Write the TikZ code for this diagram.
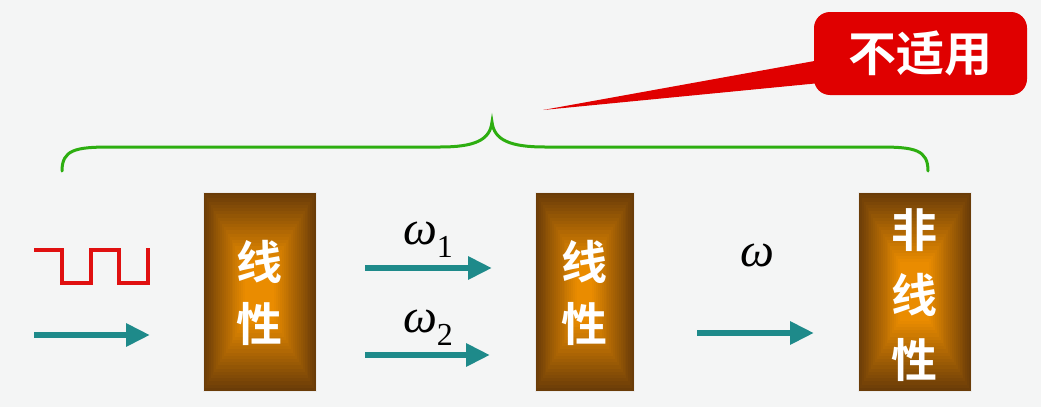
\documentclass[tikz,border=0pt]{standalone}
\usepackage{fontspec}
\setmainfont{Liberation Serif}
\newfontfamily\cjk{Noto Sans CJK SC}[BoldFont={* Bold}]
\usetikzlibrary{arrows.meta}
\definecolor{bgc}{HTML}{F4F5F5}
\definecolor{boxdark}{HTML}{6A3C08}
\definecolor{boxlight}{HTML}{EA8C00}
\definecolor{tealc}{HTML}{1E8A8A}
\definecolor{bracec}{HTML}{2DAE10}
\definecolor{calloutred}{HTML}{E00000}
\definecolor{wavered}{HTML}{E01010}
\tikzset{
  sysbox/.style={minimum width=#1, minimum height=200pt, inner sep=0pt},
  cjklabel/.style={text=white, font=\cjk\bfseries\fontsize{46}{62}\selectfont, align=center},
  sigarrow/.style={tealc, line width=6pt, -{Triangle[length=24pt,width=22pt]}},
  omegalabel/.style={font=\fontsize{48}{48}\selectfont, inner sep=0pt},
}
\newcommand{\gradbox}[4]{% x1 y1 x2 y2
  \foreach \i in {0,...,24}{
    \pgfmathsetmacro{\p}{min(100,\i*4.6)}
    \pgfmathsetmacro{\dx}{\i*1.9}
    \pgfmathsetmacro{\dy}{\i*3.2}
    \fill[boxlight!\p!boxdark] (#1+\dx,#2+\dy) rectangle (#3-\dx,#4-\dy);
  }
  \draw[white!85!gray, line width=1pt] (#1,#2) rectangle (#3,#4);
}
\begin{document}
\begin{tikzpicture}[x=1pt,y=-1pt]
\fill[bgc] (0,0) rectangle (1041,407);
\useasboundingbox (0,0) rectangle (1041,407);

% boxes
\gradbox{203}{192}{316}{391}
\gradbox{535}{192}{634}{391}
\gradbox{858}{192}{971}{391}
\node[sysbox=113pt, cjklabel] (box1) at (259.5,293) {线\\性};
\node[sysbox=99pt, cjklabel] (box2) at (584.5,293) {线\\性};
\node[sysbox=113pt, cjklabel, font=\cjk\bfseries\fontsize{46}{65}\selectfont] (box3) at (914.5,295) {非\\线\\性};

% square wave
\draw[wavered, line width=3.5pt] (34,250) -- (62,250) -- (62,283) -- (91,283) -- (91,250) -- (119,250) -- (119,283) -- (148,283) -- (148,248);

% arrows
\coordinate (a0s) at (34,335); \coordinate (a0e) at (150,335);
\coordinate (a1s) at (365,268); \coordinate (a1e) at (492,268);
\coordinate (a2s) at (365,355); \coordinate (a2e) at (490,355);
\coordinate (a3s) at (697,333); \coordinate (a3e) at (814,333);
\draw[sigarrow] (a0s) -- (a0e);
\draw[sigarrow] (a1s) -- (a1e);
\draw[sigarrow] (a2s) -- (a2e);
\draw[sigarrow] (a3s) -- (a3e);

% omega labels
\node[omegalabel] (w1) at (428,240) {\textit{ω}\raisebox{-0.28em}{\fontsize{32}{32}\selectfont 1}};
\node[omegalabel] (w2) at (428,328) {\textit{ω}\raisebox{-0.28em}{\fontsize{32}{32}\selectfont 2}};
\node[omegalabel] (w3) at (757,255) {\textit{ω}};

% brace
\coordinate (brL) at (62,171);
\coordinate (brM) at (492,122);
\coordinate (brR) at (928,171);
\draw[bracec, line width=3pt, line cap=round]
  (brL) .. controls (62,150) and (75,147) .. (110,147) -- (440,147)
  .. controls (475,147) and (490,140) .. (brM)
  .. controls (494,140) and (510,147) .. (545,147) -- (880,147)
  .. controls (915,147) and (928,150) .. (brR);

% callout
\node[fill=calloutred, rounded corners=16pt, minimum width=213pt, minimum height=83pt,
      text=white, font=\cjk\bfseries\fontsize{48}{48}\selectfont] (callout) at (920.5,53.5) {不适用};
\coordinate (tip) at (543,110);
\fill[calloutred] (820,60) -- (tip) -- (820,83) -- cycle;
\end{tikzpicture}
\end{document}
